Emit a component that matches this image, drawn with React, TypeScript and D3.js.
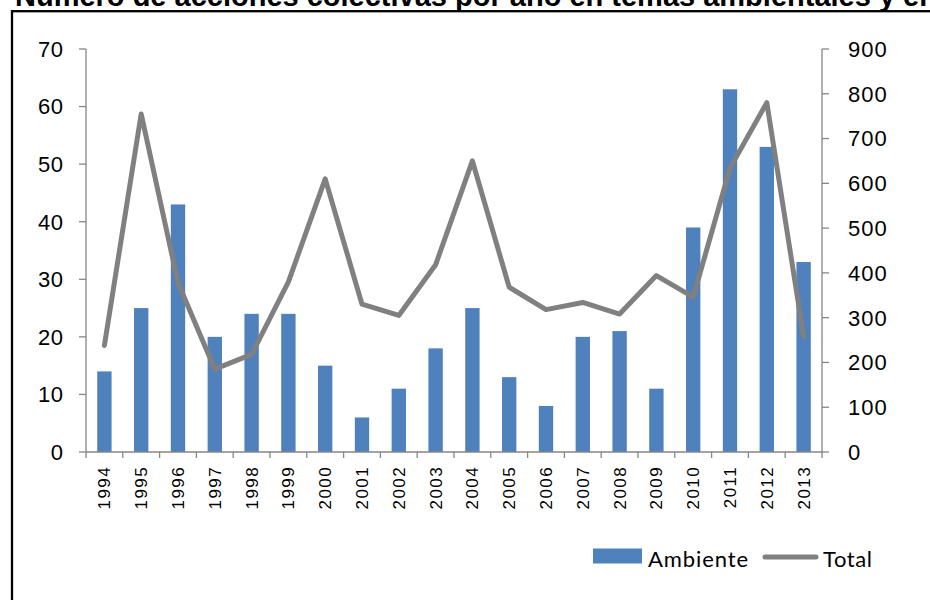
import React from 'react';
import * as d3 from 'd3';

const years = ['1994', '1995', '1996', '1997', '1998', '1999', '2000', '2001', '2002', '2003',
  '2004', '2005', '2006', '2007', '2008', '2009', '2010', '2011', '2012', '2013'];
const ambiente = [14, 25, 43, 20, 24, 24, 15, 6, 11, 18, 25, 13, 8, 20, 21, 11, 39, 63, 53, 33];
const total = [238, 755, 378, 185, 218, 380, 610, 330, 305, 418,
  650, 368, 318, 334, 308, 394, 346, 634, 780, 258];
const leftTicks = [0, 10, 20, 30, 40, 50, 60, 70];
const rightTicks = [0, 100, 200, 300, 400, 500, 600, 700, 800, 900];
const title = 'Número de acciones colectivas por año en temas ambientales y en total';

const W = 930;
const H = 600;
const axisColor = '#868686';
const barColor = '#4F81BD';
const lineColor = '#808080';
const axisFont = '"Liberation Sans", Arial, sans-serif';

export default function App() {
  const left = 86;
  const right = 822;
  const top = 49;
  const bottom = 452;

  const x = d3.scaleBand<string>()
      .domain(years)
      .range([left, right])
      .paddingInner(0.61)
      .paddingOuter(0.305);
  const step = x.step();

  const yL = d3.scaleLinear().domain([0, 70]).range([bottom, top]);
  const yR = d3.scaleLinear().domain([0, 900]).range([bottom, top]);

  const line = d3.line<number>()
      .x((d, i) => (x(years[i]) as number) + x.bandwidth() / 2)
      .y((d) => yR(d));

  return (
    <svg width={W} height={H} style={{position: 'absolute', left: 0, top: 0, background: '#fff'}}>
      <rect x={0} y={0} width={W} height={H} fill="#fff" />
      {/* title, cut off at the top like the source */}
      <text x={15} y={5.5} fontFamily={axisFont} fontWeight="bold" fontSize={29} fill="#000">{title}</text>
      {/* frame */}
      <rect x={12} y={11.2} width={W + 20} height={H + 20} fill="none" stroke="#000" strokeWidth={2.3} />

      {/* bars */}
      {ambiente.map((v, i) => (
        <rect key={years[i]} x={x(years[i])} y={yL(v)} width={x.bandwidth()}
          height={bottom - yL(v)} fill={barColor} />
      ))}

      {/* left axis */}
      <g>
        <line x1={left} x2={left} y1={top} y2={bottom} stroke={axisColor} strokeWidth={1.3} />
        {leftTicks.map((t) => (
          <g key={t}>
            <line x1={left - 7} x2={left} y1={yL(t)} y2={yL(t)} stroke={axisColor} strokeWidth={1.3} />
            <text x={63.5} y={yL(t)} dy="0.36em" textAnchor="end" fontFamily={axisFont}
              fontSize={22} letterSpacing={0.5} fill="#000">{t}</text>
          </g>
        ))}
      </g>

      {/* right axis */}
      <g>
        <line x1={right} x2={right} y1={top} y2={bottom} stroke={axisColor} strokeWidth={1.3} />
        {rightTicks.map((t) => (
          <g key={t}>
            <line x1={right} x2={right + 7} y1={yR(t)} y2={yR(t)} stroke={axisColor} strokeWidth={1.3} />
            <text x={848} y={yR(t)} dy="0.36em" textAnchor="start" fontFamily={axisFont}
              fontSize={22} letterSpacing={1} fill="#000">{t}</text>
          </g>
        ))}
      </g>

      {/* x axis */}
      <g>
        <line x1={left} x2={right} y1={bottom} y2={bottom} stroke={axisColor} strokeWidth={1.3} />
        {d3.range(years.length + 1).map((i) => (
          <line key={i} x1={left + i * step} x2={left + i * step} y1={bottom} y2={bottom + 6}
            stroke={axisColor} strokeWidth={1.3} />
        ))}
        {years.map((yr) => {
          const cx = (x(yr) as number) + x.bandwidth() / 2;
          return (
            <text key={yr} transform={`translate(${cx},466) rotate(-90)`} textAnchor="end"
              dy="0.35em" fontFamily={axisFont} fontSize={17} letterSpacing={1.4} fill="#000">{yr}</text>
          );
        })}
      </g>

      {/* total line */}
      <path d={line(total) || ''} fill="none" stroke={lineColor} strokeWidth={5}
        strokeLinecap="round" strokeLinejoin="round" />

      {/* legend */}
      <g fontFamily="Lato, 'Open Sans', sans-serif" fontSize={22} fill="#000">
        <rect x={593} y={548.5} width={49} height={15} fill={barColor} />
        <text x={648} y={567} letterSpacing={0.9}>Ambiente</text>
        <line x1={765} x2={816} y1={557} y2={557} stroke={lineColor} strokeWidth={5} strokeLinecap="round" />
        <text x={823} y={567} letterSpacing={0.6}>Total</text>
      </g>
    </svg>
  );
}
